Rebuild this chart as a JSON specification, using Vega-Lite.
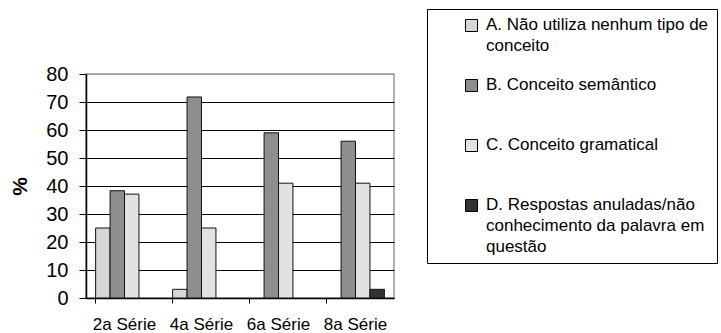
{
  "$schema": "https://vega.github.io/schema/vega-lite/v6.json",
  "width": 308,
  "height": 224,
  "autosize": {"type": "none"},
  "padding": {"left": 86, "top": 74, "right": 327, "bottom": 35},
  "background": "white",
  "config": {
    "font": "Liberation Sans",
    "view": {"stroke": "#999999", "strokeWidth": 1.5}
  },
  "data": {
    "values": [
      {"serie": "2a Série", "categoria": "A. Não utiliza nenhum tipo de conceito", "valor": 25},
      {"serie": "2a Série", "categoria": "B. Conceito semântico", "valor": 38.3},
      {"serie": "2a Série", "categoria": "C. Conceito gramatical", "valor": 37.1},
      {"serie": "4a Série", "categoria": "A. Não utiliza nenhum tipo de conceito", "valor": 3.1},
      {"serie": "4a Série", "categoria": "B. Conceito semântico", "valor": 71.8},
      {"serie": "4a Série", "categoria": "C. Conceito gramatical", "valor": 25},
      {"serie": "6a Série", "categoria": "B. Conceito semântico", "valor": 59},
      {"serie": "6a Série", "categoria": "C. Conceito gramatical", "valor": 41},
      {"serie": "8a Série", "categoria": "B. Conceito semântico", "valor": 56},
      {"serie": "8a Série", "categoria": "C. Conceito gramatical", "valor": 41},
      {"serie": "8a Série", "categoria": "D. Respostas anuladas/não conhecimento da palavra em questão", "valor": 3.1}
    ]
  },
  "mark": {"type": "bar", "stroke": "#111111", "strokeWidth": 1},
  "encoding": {
    "x": {
      "field": "serie",
      "type": "nominal",
      "sort": ["2a Série", "4a Série", "6a Série", "8a Série"],
      "scale": {"paddingInner": 0.25, "paddingOuter": 0.125},
      "axis": {
        "title": null,
        "labelAngle": 0,
        "labelFontSize": 17,
        "labelColor": "black",
        "labelPadding": 13,
        "bandPosition": 0,
        "tickColor": "black",
        "tickSize": 5,
        "domainColor": "black",
        "domainWidth": 1.5
      }
    },
    "xOffset": {
      "field": "categoria",
      "type": "nominal",
      "scale": {"paddingInner": 0, "paddingOuter": 0}
    },
    "y": {
      "field": "valor",
      "type": "quantitative",
      "scale": {"domain": [0, 80]},
      "axis": {
        "title": "%",
        "titleFontSize": 21,
        "titleFontWeight": "bold",
        "titleColor": "black",
        "titlePadding": 15,
        "values": [0, 10, 20, 30, 40, 50, 60, 70, 80],
        "labelFontSize": 20,
        "labelColor": "black",
        "labelPadding": 11,
        "tickColor": "black",
        "tickSize": 7,
        "domainColor": "black",
        "domainWidth": 1.5,
        "grid": true,
        "gridColor": {"condition": {"test": "datum.value == 80", "value": "#999999"}, "value": "black"},
        "gridWidth": 1
      }
    },
    "fill": {
      "field": "categoria",
      "type": "nominal",
      "scale": {
        "domain": [
          "A. Não utiliza nenhum tipo de conceito",
          "B. Conceito semântico",
          "C. Conceito gramatical",
          "D. Respostas anuladas/não conhecimento da palavra em questão"
        ],
        "range": ["#d6d6d6", "#8e8e8e", "#e2e2e2", "#333333"]
      },
      "legend": {
        "title": null,
        "orient": "none",
        "legendX": 341,
        "legendY": -65,
        "strokeColor": "black",
        "fillColor": "white",
        "padding": 8,
        "symbolType": "square",
        "symbolSize": 144,
        "symbolOffset": 28,
        "symbolStrokeColor": "black",
        "symbolStrokeWidth": 1,
        "labelFontSize": 17,
        "labelOffset": 6,
        "labelColor": "black",
        "labelLimit": 300,
        "labelBaseline": "top",
        "rowPadding": 21,
        "labelExpr": "datum.label == 'A. Não utiliza nenhum tipo de conceito' ? ['A. Não utiliza nenhum tipo de', 'conceito'] : datum.label == 'D. Respostas anuladas/não conhecimento da palavra em questão' ? ['D. Respostas anuladas/não', 'conhecimento da palavra em', 'questão'] : [datum.label, '']",
        "encode": {"labels": {"update": {"lineHeight": {"value": 21}, "dy": {"value": -9}}}}
      }
    }
  }
}
